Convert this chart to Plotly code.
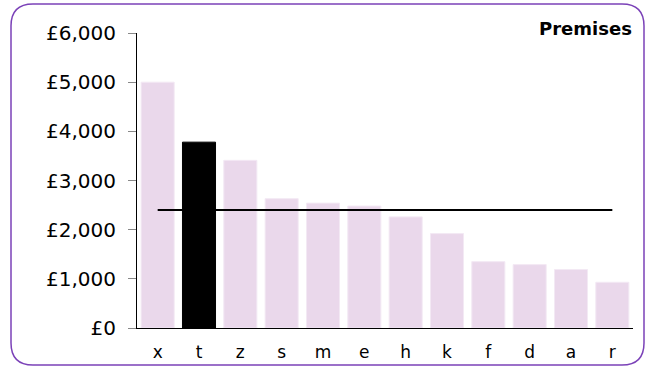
import plotly.graph_objects as go

categories = ["x", "t", "z", "s", "m", "e", "h", "k", "f", "d", "a", "r"]
values = [5000, 3780, 3410, 2630, 2540, 2480, 2260, 1920, 1350, 1290, 1190, 930]
average = 2400
highlight = "t"
title_text = "Premises"
y_ticks = [0, 1000, 2000, 3000, 4000, 5000, 6000]
y_tick_labels = ["£0", "£1,000", "£2,000", "£3,000", "£4,000", "£5,000", "£6,000"]

W, H = 650, 367
L, R, T, B = 137, 17, 33, 39
PW, PH = W - L - R, H - T - B

def px(x):
    return (x - L) / PW

def py(y):
    return (H - B - y) / PH

bar_colors = ["#000000" if c == highlight else "#ead8eb" for c in categories]
edge_colors = ["#000000" if c == highlight else "#f3e9f4" for c in categories]

fig = go.Figure()
fig.add_trace(go.Bar(x=categories, y=values,
                     marker=dict(color=bar_colors, line=dict(width=1, color=edge_colors)),
                     showlegend=False, hoverinfo="skip"))
fig.add_trace(go.Scatter(x=categories, y=[average] * len(categories), mode="lines",
                         line=dict(color="#000000", width=2), showlegend=False, hoverinfo="skip"))

# rounded border
x0, y0, x1, y1, r = 11, 4, 644, 365, 22
path = (f"M {px(x0+r)},{py(y0)} L {px(x1-r)},{py(y0)} Q {px(x1)},{py(y0)} {px(x1)},{py(y0+r)} "
        f"L {px(x1)},{py(y1-r)} Q {px(x1)},{py(y1)} {px(x1-r)},{py(y1)} "
        f"L {px(x0+r)},{py(y1)} Q {px(x0)},{py(y1)} {px(x0)},{py(y1-r)} "
        f"L {px(x0)},{py(y0+r)} Q {px(x0)},{py(y0)} {px(x0+r)},{py(y0)} Z")
fig.add_shape(type="path", path=path, xref="paper", yref="paper",
              line=dict(color="#7b42b8", width=1.5), layer="below")

fig.add_annotation(text=f"<b>{title_text}</b>", xref="paper", yref="paper",
                   x=px(634), y=py(29), xanchor="right", yanchor="middle", showarrow=False,
                   font=dict(family="DejaVu Sans", size=18, color="#000000"))

fig.update_layout(
    template="none",
    width=W, height=H,
    margin=dict(l=L, r=R, t=T, b=B, pad=0),
    paper_bgcolor="white", plot_bgcolor="white",
    bargap=0.2,
    font=dict(family="DejaVu Sans", size=20, color="#000000"),
)
fig.update_xaxes(showline=True, linecolor="#000000", linewidth=1, ticks="",
                 showgrid=False, automargin=False, tickfont=dict(size=17),
                 ticklabelstandoff=9)
fig.update_yaxes(range=[0, 6000], tickvals=y_ticks, ticktext=y_tick_labels,
                 showline=True, linecolor="#000000", linewidth=1, ticks="outside",
                 ticklen=8, tickcolor="#888888", showgrid=False, zeroline=False,
                 automargin=False, ticklabelstandoff=8)

fig.write_html("out.html", config={"displayModeBar": False},
               post_script="document.body.style.margin='0px';")
